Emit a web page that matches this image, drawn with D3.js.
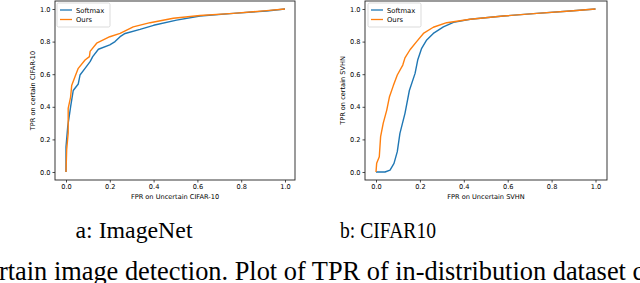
<!DOCTYPE html>
<html>
<head>
<meta charset="utf-8">
<script src="https://d3js.org/d3.v7.min.js"></script>
<style>
  body { margin: 0; background: #fff; }
  svg { display: block; }
  .tick text { font-family: "DejaVu Sans", sans-serif; font-size: 6.6px; fill: #000; }
  .ax-label { font-family: "DejaVu Sans", sans-serif; font-size: 6.6px; fill: #000; }
  .legend text { font-family: "DejaVu Sans", sans-serif; font-size: 6.8px; fill: #000; }
  .caption { font-family: "Liberation Serif", "Times New Roman", serif; fill: #000; }
</style>
</head>
<body>
<div id="svg-container"></div>
<script>
var w = 640;
var h = 283;

// ROC points: [fpr, tpr]
var softmaxImageNet = [[0,0],[0,0.155],[0.008,0.28],[0.021,0.40],[0.033,0.50],[0.056,0.54],[0.064,0.595],
    [0.087,0.636],[0.11,0.677],[0.122,0.708],[0.148,0.753],[0.2,0.78],[0.224,0.80],[0.247,0.83],[0.27,0.85],
    [0.338,0.875],[0.40,0.90],[0.505,0.932],[0.612,0.957],[0.764,0.973],[0.916,0.988],[1,1]];
var oursImageNet = [[0,0],[0.003,0.135],[0.01,0.24],[0.01,0.39],[0.021,0.46],[0.026,0.53],[0.041,0.585],
    [0.056,0.636],[0.087,0.687],[0.107,0.708],[0.11,0.74],[0.14,0.79],[0.2,0.83],[0.247,0.85],[0.307,0.89],
    [0.384,0.916],[0.49,0.943],[0.612,0.96],[0.764,0.973],[0.916,0.99],[1,1]];
var softmaxCifar = [[0,0],[0.041,0],[0.064,0.012],[0.082,0.053],[0.097,0.125],[0.109,0.237],[0.132,0.36],
    [0.152,0.50],[0.178,0.605],[0.19,0.687],[0.208,0.759],[0.231,0.81],[0.261,0.85],[0.307,0.89],[0.353,0.918],
    [0.429,0.937],[0.58,0.957],[0.733,0.973],[0.884,0.988],[1,1]];
var oursCifar = [[0,0],[0.003,0.053],[0.015,0.094],[0.021,0.217],[0.033,0.30],[0.049,0.38],[0.061,0.46],
    [0.079,0.53],[0.097,0.595],[0.122,0.656],[0.132,0.70],[0.155,0.75],[0.185,0.80],[0.216,0.85],[0.261,0.888],
    [0.322,0.916],[0.353,0.922],[0.429,0.937],[0.58,0.957],[0.733,0.973],[0.884,0.988],[1,1]];

var seriesNames = ["Softmax", "Ours"];
var tickValues = [0, 0.2, 0.4, 0.6, 0.8, 1.0];
var xLabels = ["FPR on Uncertain CIFAR-10", "FPR on Uncertain SVHN"];
var yLabels = ["TPR on certain CIFAR-10", "TPR on certain SVHN"];
var captions = ["a: ImageNet", "b: CIFAR10"];
var bottomText = "Uncertain image detection. Plot of TPR of in-distribution dataset certain";

var colours = ["#1f77b4", "#ff7f0e"];

var svg = d3.select("#svg-container")
    .append("svg")
    .attr("width", w)
    .attr("height", h);

var panels = [
    { box: [55, 295], x0: 66, x1: 285, yLabelX: 33, legend: 57, capX: 134, capW: 117, data: [softmaxImageNet, oursImageNet] },
    { box: [365, 607], x0: 376, x1: 595.5, yLabelX: 343, legend: 368, capX: 388, capW: 96, data: [softmaxCifar, oursCifar] }
];

var boxTop = 1, boxBottom = 180;

var yScale = d3.scaleLinear().domain([0, 1]).range([172, 9]);

panels.forEach(function(p, i) {
    var xScale = d3.scaleLinear().domain([0, 1]).range([p.x0, p.x1]);
    var g = svg.append("g");

    var line = d3.line()
        .x(function(d) { return xScale(d[0]); })
        .y(function(d) { return yScale(d[1]); });

    p.data.forEach(function(series, k) {
        g.append("path")
            .attr("d", line(series))
            .attr("fill", "none")
            .attr("stroke", colours[k])
            .attr("stroke-width", 1.4)
            .attr("stroke-linejoin", "round");
    });

    // axes
    var xAxis = d3.axisBottom(xScale).tickValues(tickValues).tickFormat(d3.format(".1f")).tickSize(2.5).tickPadding(2);
    var yAxis = d3.axisLeft(yScale).tickValues(tickValues).tickFormat(d3.format(".1f")).tickSize(2.5).tickPadding(2);

    g.append("g")
        .attr("transform", "translate(0," + boxBottom + ")")
        .call(xAxis)
        .call(function(a) { a.select(".domain").remove(); a.selectAll("line").attr("stroke-width", 0.7); });

    g.append("g")
        .attr("transform", "translate(" + p.box[0] + ",0)")
        .call(yAxis)
        .call(function(a) { a.select(".domain").remove(); a.selectAll("line").attr("stroke-width", 0.7); });

    // frame
    g.append("rect")
        .attr("x", p.box[0])
        .attr("y", boxTop)
        .attr("width", p.box[1] - p.box[0])
        .attr("height", boxBottom - boxTop)
        .attr("fill", "none")
        .attr("stroke", "#222")
        .attr("stroke-width", 0.9);

    g.append("text")
        .attr("class", "ax-label")
        .attr("x", (p.box[0] + p.box[1]) / 2)
        .attr("y", 198.5)
        .attr("text-anchor", "middle")
        .text(xLabels[i]);

    g.append("text")
        .attr("class", "ax-label")
        .attr("transform", "translate(" + (p.yLabelX + 2) + "," + ((boxTop + boxBottom) / 2) + ") rotate(-90)")
        .attr("text-anchor", "middle")
        .text(yLabels[i]);

    // legend
    var lg = g.append("g").attr("class", "legend");
    lg.append("rect")
        .attr("x", p.legend)
        .attr("y", 3)
        .attr("width", 53)
        .attr("height", 24)
        .attr("rx", 1.5)
        .attr("fill", "#fff")
        .attr("fill-opacity", 0.8)
        .attr("stroke", "#ccc")
        .attr("stroke-width", 0.7);
    seriesNames.forEach(function(name, k) {
        var ly = 10 + k * 9.5;
        lg.append("line")
            .attr("x1", p.legend + 3)
            .attr("x2", p.legend + 15)
            .attr("y1", ly)
            .attr("y2", ly)
            .attr("stroke", colours[k])
            .attr("stroke-width", 1.3);
        lg.append("text")
            .attr("x", p.legend + 19)
            .attr("y", ly + 2.5)
            .text(name);
    });

    svg.append("text")
        .attr("class", "caption")
        .attr("x", p.capX)
        .attr("y", 238)
        .attr("text-anchor", "middle")
        .attr("textLength", p.capW)
        .attr("lengthAdjust", "spacingAndGlyphs")
        .style("font-size", "24px")
        .text(captions[i]);
});

// cut-off figure caption below the panels: size it so "...dataset" ends near x=627
var measureText = function(str, size) {
    var t = svg.append("text").attr("class", "caption").style("font-size", size + "px").text(str);
    var len = t.node().getComputedTextLength();
    t.remove();
    return len;
};
var visible = "rtain image detection. Plot of TPR of in-distribution dataset";
var capSize = 24 * 627 / measureText(visible, 24);
var off = measureText("Unce", capSize);

svg.append("text")
    .attr("class", "caption")
    .attr("x", -off - 1)
    .attr("y", 280)
    .style("font-size", capSize + "px")
    .text(bottomText);
</script>
</body>
</html>
